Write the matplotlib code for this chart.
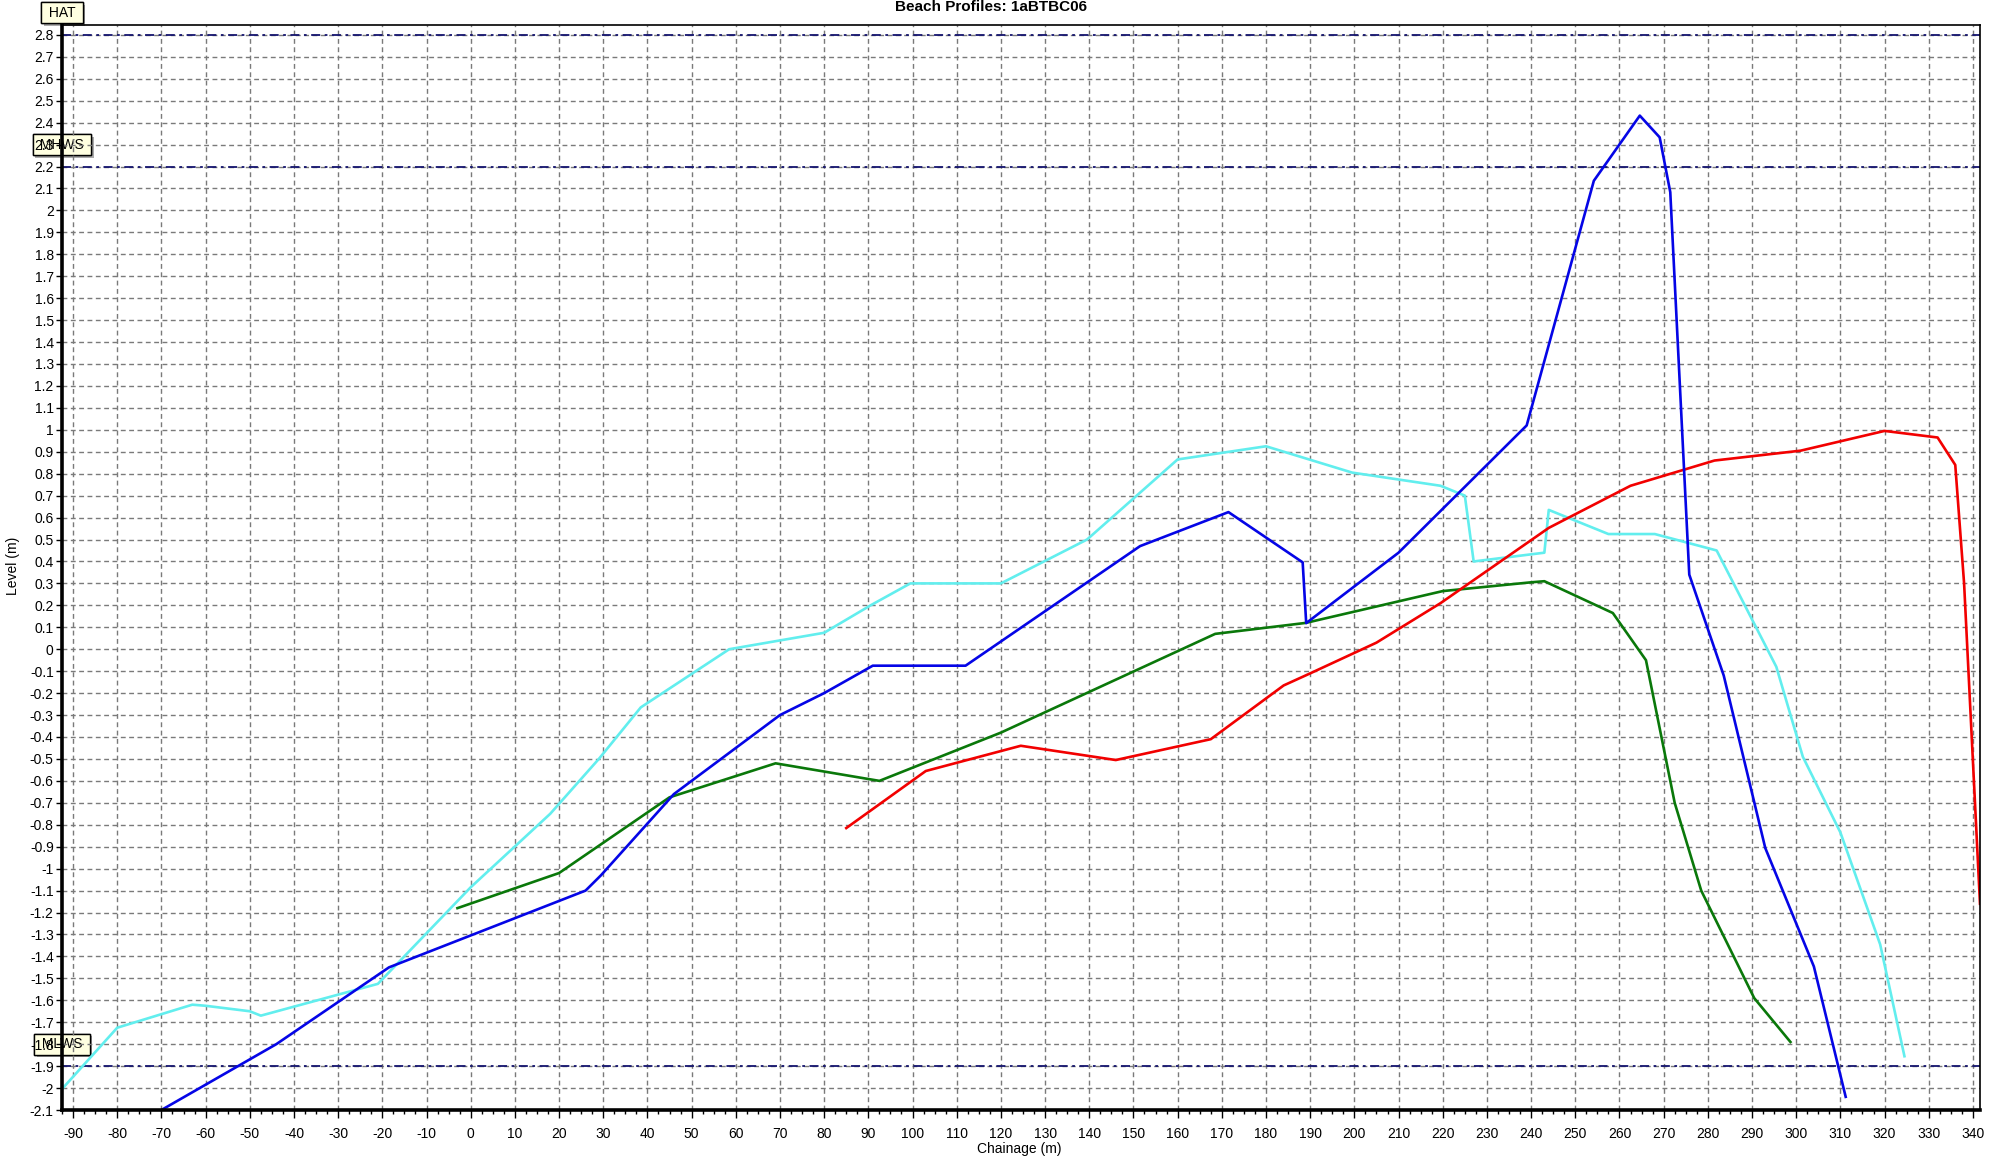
import numpy as np
import matplotlib
matplotlib.use("Agg")
import matplotlib.pyplot as plt
from matplotlib import patheffects
from matplotlib.ticker import MultipleLocator, FuncFormatter

plt.rcParams['font.family'] = ['Liberation Sans', 'DejaVu Sans']

# Beach profile surveys: chainage (m) vs level (m)
cyan_x = [-92.3, -80, -63, -60, -50, -47.5, -21, 0, 18, 29, 38.5, 58.5, 80, 90.5,
          99.5, 120, 139.5, 160, 180, 199.5, 219.5, 225, 227, 243, 244, 257.5,
          268, 282, 295.5, 301.5, 310, 319, 324.5]
cyan_y = [-2.0, -1.725, -1.62, -1.625, -1.65, -1.67, -1.525, -1.085, -0.75, -0.5,
          -0.265, 0.0, 0.075, 0.2, 0.3, 0.3, 0.5, 0.865, 0.925, 0.805, 0.745, 0.7,
          0.4, 0.44, 0.635, 0.525, 0.525, 0.45, -0.08, -0.49, -0.835, -1.345, -1.855]

blue_x = [-70, -44, -18.5, 26, 29.5, 46, 70, 80, 91, 112, 151.5, 171.5, 188.3,
          189.1, 210, 239, 254.2, 264.6, 269.1, 271.5, 275.8, 283.6, 293, 304, 311.2]
blue_y = [-2.1, -1.80, -1.45, -1.10, -1.03, -0.66, -0.30, -0.20, -0.075, -0.075,
          0.47, 0.625, 0.396, 0.119, 0.44, 1.02, 2.135, 2.432, 2.333, 2.083, 0.34,
          -0.12, -0.906, -1.446, -2.04]

green_x = [-3, 20, 45, 69, 92.5, 120, 168.5, 189, 220, 240, 243, 258.5, 266,
           272.5, 278.5, 290.5, 298.7]
green_y = [-1.18, -1.02, -0.675, -0.52, -0.60, -0.38, 0.07, 0.12, 0.265, 0.305,
           0.31, 0.165, -0.05, -0.70, -1.10, -1.59, -1.79]

red_x = [85, 103, 124.5, 146, 167.5, 184, 190, 205, 219.5, 244, 262.5, 281.5,
         301, 320, 332, 336, 338, 341.6]
red_y = [-0.815, -0.555, -0.44, -0.505, -0.41, -0.165, -0.11, 0.03, 0.21, 0.553,
         0.745, 0.86, 0.905, 0.995, 0.965, 0.84, 0.30, -1.16]

# Tidal reference levels
tide_names = ['HAT', 'MHWS', 'MLWS']
tide_levels = [2.8, 2.2, -1.9]

x_min, x_max = -92.5, 341.6
y_min, y_max = -2.1, 2.845

W, H = 1993, 1162
fig = plt.figure(figsize=(W / 100, H / 100), dpi=100)
fig.patch.set_facecolor('white')
ax = fig.add_axes([62 / W, 1 - 1110 / H, (1980 - 62) / W, (1110 - 25) / H])

lw = 1.9
ax.plot(cyan_x, cyan_y, color='#62eeee', lw=lw, zorder=2.0)
ax.plot(green_x, green_y, color='#0a780a', lw=lw, zorder=2.1)
ax.plot(red_x, red_y, color='#f20000', lw=lw, zorder=2.2)
ax.plot(blue_x, blue_y, color='#0505e6', lw=lw, zorder=2.3)

for name, lev in zip(tide_names, tide_levels):
    ax.axhline(lev, color='#14146e', lw=1.3, ls=(0, (5, 2.5, 1.5, 2.5)), zorder=1.8)
    t = ax.text(x_min, lev + 0.1, f' {name} ', ha='center', va='center',
                fontsize=10, zorder=1, clip_on=False,
                bbox=dict(boxstyle='square,pad=0.25', fc='#ffffe1', ec='black', lw=1))
    t.get_bbox_patch().set_path_effects([
        patheffects.withSimplePatchShadow(offset=(2, -2), shadow_rgbFace='0.45', alpha=0.6),
        patheffects.Normal()])

ax.set_xlim(x_min, x_max)
ax.set_ylim(y_min, y_max)

ax.xaxis.set_major_locator(MultipleLocator(10))
ax.xaxis.set_minor_locator(MultipleLocator(2.5))
ax.set_yticks(np.round(np.arange(-21, 29) / 10, 1))


def level_fmt(v, pos=None):
    s = f"{v:.1f}".rstrip('0').rstrip('.')
    return '0' if s in ('-0', '0') else s


ax.yaxis.set_major_formatter(FuncFormatter(level_fmt))
ax.xaxis.set_major_formatter(FuncFormatter(lambda v, p: f"{v:.0f}"))

ax.grid(True, which='major', color='#7a7a7a', lw=1.0, ls=(0, (3.5, 2.5)))
ax.tick_params(axis='y', length=4, width=1, pad=2, labelsize=10)
ax.tick_params(axis='x', which='major', length=6, width=1, pad=6, labelsize=10)
ax.tick_params(axis='x', which='minor', length=3, width=1)

for side in ['left', 'bottom']:
    ax.spines[side].set_linewidth(2.6)
for side in ['top', 'right']:
    ax.spines[side].set_linewidth(1.2)

fig.text(991 / W, 1 - 11 / H, 'Beach Profiles: 1aBTBC06', ha='center',
         va='baseline', fontsize=11, fontweight='bold')
fig.text(13 / W, 1 - 566 / H, 'Level (m)', rotation=90, ha='center',
         va='center', fontsize=10)
fig.text(1019 / W, 1 - 1149 / H, 'Chainage (m)', ha='center', va='center',
         fontsize=10)

fig.savefig('out.png', dpi=100)
